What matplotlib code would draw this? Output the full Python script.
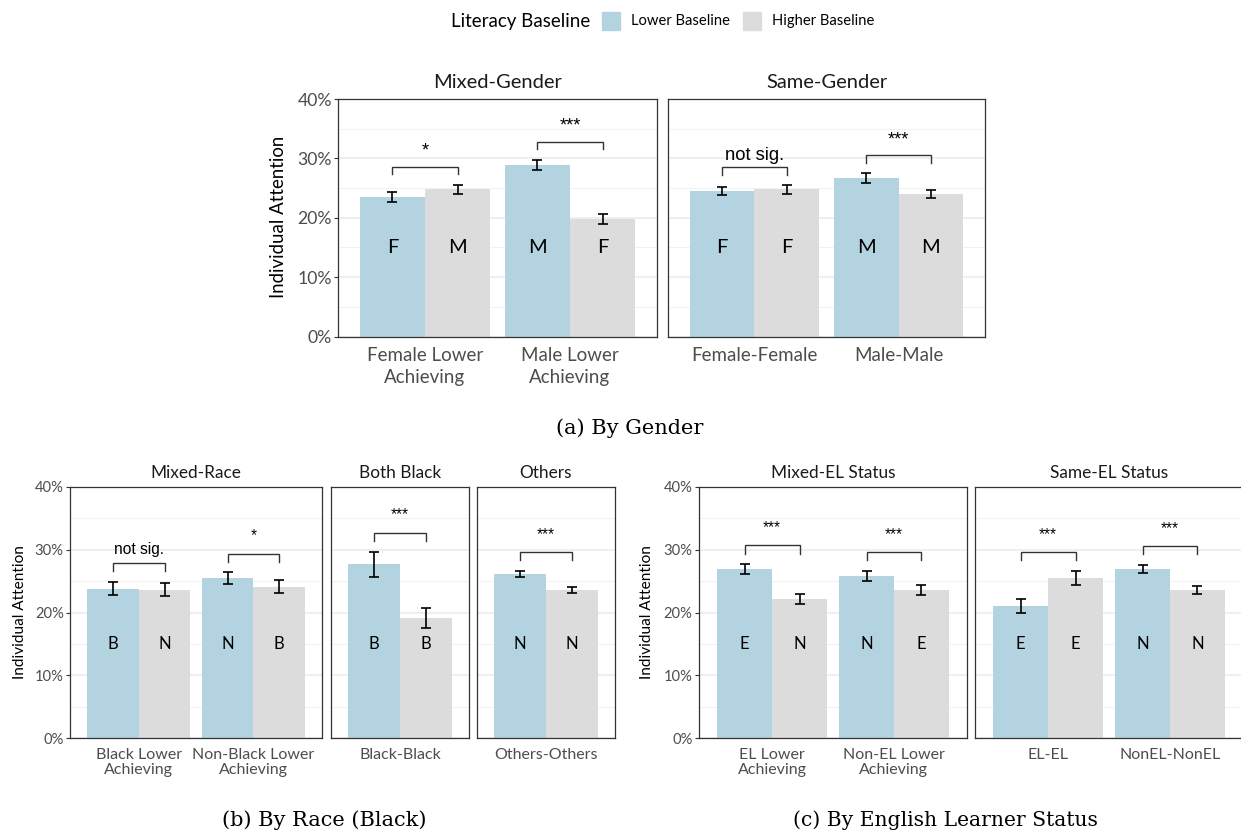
import matplotlib
matplotlib.use("Agg")
import matplotlib.pyplot as plt
from matplotlib.patches import Rectangle
from matplotlib.ticker import FixedLocator

# ---------------- DATA (percent) ----------------
# (a) Gender
mg_cats = ["Female Lower\nAchieving", "Male Lower\nAchieving"]
mg_lower = [23.5, 28.9]
mg_lower_err = [0.85, 0.9]
mg_higher = [24.8, 19.8]
mg_higher_err = [0.8, 0.85]
mg_lower_lbl = ["F", "M"]
mg_higher_lbl = ["M", "F"]
mg_sig = ["*", "***"]

sg_cats = ["Female-Female", "Male-Male"]
sg_lower = [24.5, 26.7]
sg_lower_err = [0.75, 0.8]
sg_higher = [24.8, 24.0]
sg_higher_err = [0.75, 0.75]
sg_lower_lbl = ["F", "M"]
sg_higher_lbl = ["F", "M"]
sg_sig = ["not sig.", "***"]

# (b) Race
mr_cats = ["Black Lower\nAchieving", "Non-Black Lower\nAchieving"]
mr_lower = [23.8, 25.5]
mr_lower_err = [1.05, 0.9]
mr_higher = [23.6, 24.1]
mr_higher_err = [1.05, 1.0]
mr_lower_lbl = ["B", "N"]
mr_higher_lbl = ["N", "B"]
mr_sig = ["not sig.", "*"]

bb_cats = ["Black-Black"]
bb_lower = [27.7]
bb_lower_err = [2.0]
bb_higher = [19.15]
bb_higher_err = [1.6]
bb_lower_lbl = ["B"]
bb_higher_lbl = ["B"]
bb_sig = ["***"]

oo_cats = ["Others-Others"]
oo_lower = [26.1]
oo_lower_err = [0.5]
oo_higher = [23.6]
oo_higher_err = [0.5]
oo_lower_lbl = ["N"]
oo_higher_lbl = ["N"]
oo_sig = ["***"]

# (c) English learner status
me_cats = ["EL Lower\nAchieving", "Non-EL Lower\nAchieving"]
me_lower = [26.9, 25.8]
me_lower_err = [0.8, 0.8]
me_higher = [22.1, 23.6]
me_higher_err = [0.8, 0.8]
me_lower_lbl = ["E", "N"]
me_higher_lbl = ["N", "E"]
me_sig = ["***", "***"]

se_cats = ["EL-EL", "NonEL-NonEL"]
se_lower = [21.05, 26.9]
se_lower_err = [1.05, 0.66]
se_higher = [25.5, 23.6]
se_higher_err = [1.1, 0.66]
se_lower_lbl = ["E", "N"]
se_higher_lbl = ["E", "N"]
se_sig = ["***", "***"]

panel_titles = ["Mixed-Gender", "Same-Gender", "Mixed-Race", "Both Black", "Others",
                "Mixed-EL Status", "Same-EL Status"]
legend_title = "Literacy Baseline"
legend_labels = ["Lower Baseline", "Higher Baseline"]
y_ticks = [0, 10, 20, 30, 40]
y_label = "Individual Attention"
captions = ["(a) By Gender", "(b) By Race (Black)", "(c) By English Learner Status"]

# ---------------- STYLE ----------------
BLUE = "#B3D3E1"
GRAY = "#DCDCDC"
SANS = ["Lato", "DejaVu Sans"]
SIGF = ["Liberation Sans", "DejaVu Sans"]
SERIF = ["DejaVu Serif", "Liberation Serif"]
plt.rcParams["font.family"] = SANS

W, H = 1241, 833
fig = plt.figure(figsize=(W / 100, H / 100), dpi=100)


def ax_at(x0, x1, y0, y1):
    return fig.add_axes([x0 / W, 1 - y1 / H, (x1 - x0) / W, (y1 - y0) / H])


def draw_panel(ax, cats, lo, lo_e, hi, hi_e, lo_lbl, hi_lbl, sig, title,
               first, big):
    n = len(cats)
    xs = list(range(1, n + 1))
    bw = 0.45
    fs_lbl = 14.5 if big else 12.0
    fs_tick = 13.5 if big else 11.5
    fs_ytick = 12.7 if big else 10.6
    fs_title = 14.5 if big else 12.4
    fs_sig = 13.2 if big else 11.2
    txt_off = 1.18 if big else 1.5
    star_extra = 0.65
    ax.set_xlim(0.4, n + 0.6)
    ax.set_ylim(0, 40)
    ax.yaxis.set_major_locator(FixedLocator(y_ticks))
    ax.yaxis.set_minor_locator(FixedLocator([5, 15, 25, 35]))
    ax.grid(True, which="major", axis="y", color="#EBEBEB", lw=1.1, zorder=0)
    ax.grid(True, which="minor", axis="y", color="#F2F2F2", lw=0.8, zorder=0)
    ax.set_axisbelow(True)
    xl = [x - bw / 2 for x in xs]
    xh = [x + bw / 2 for x in xs]
    ax.bar(xl, lo, width=bw, color=BLUE, zorder=2)
    ax.bar(xh, hi, width=bw, color=GRAY, zorder=2)
    ax.errorbar(xl, lo, yerr=lo_e, fmt="none", ecolor="black", elinewidth=1.2,
                capsize=3.6, capthick=1.2, zorder=3)
    ax.errorbar(xh, hi, yerr=hi_e, fmt="none", ecolor="black", elinewidth=1.2,
                capsize=3.6, capthick=1.2, zorder=3)
    for i in range(n):
        ax.text(xl[i], 15, lo_lbl[i], ha="center", va="center", fontsize=fs_lbl,
                color="black", zorder=4)
        ax.text(xh[i], 15, hi_lbl[i], ha="center", va="center", fontsize=fs_lbl,
                color="black", zorder=4)
        top = max(lo[i] + lo_e[i], hi[i] + hi_e[i]) + 3.0
        ax.plot([xl[i], xl[i], xh[i], xh[i]], [top - 1.3, top, top, top - 1.3],
                color="#333333", lw=1.0, zorder=4, solid_joinstyle="miter")
        off = txt_off + (star_extra if set(sig[i]) == {"*"} else 0)
        ax.text(xs[i], top + off, sig[i], ha="center", va="baseline",
                fontsize=fs_sig, family=SIGF, color="black", zorder=4)
    ax.set_xticks(xs)
    ax.set_xticklabels(cats, fontsize=fs_tick, color="#4D4D4D",
                       linespacing=1.38 if big else 1.12)
    ax.tick_params(axis="x", length=0, pad=7.5 if big else 7.0)
    if first:
        ax.set_yticklabels([f"{v}%" for v in y_ticks], fontsize=fs_ytick,
                           color="#4D4D4D")
        ax.tick_params(axis="y", which="major", length=3, width=0.8,
                       color="#333333", pad=1.5)
    else:
        ax.tick_params(axis="y", which="major", length=0, labelleft=False)
    ax.tick_params(axis="y", which="minor", length=0)
    for s in ax.spines.values():
        s.set_color("#333333")
        s.set_linewidth(0.9)
    ax.set_title(title, fontsize=fs_title, color="#1A1A1A", pad=8 if big else 6.5)


# ---- top row ----
a1 = ax_at(338, 657, 99, 336.5)
draw_panel(a1, mg_cats, mg_lower, mg_lower_err, mg_higher, mg_higher_err,
           mg_lower_lbl, mg_higher_lbl, mg_sig, panel_titles[0], True, True)
a2 = ax_at(668, 985, 99, 336.5)
draw_panel(a2, sg_cats, sg_lower, sg_lower_err, sg_higher, sg_higher_err,
           sg_lower_lbl, sg_higher_lbl, sg_sig, panel_titles[1], False, True)

# ---- bottom left ----
b1 = ax_at(70, 322, 487, 738)
draw_panel(b1, mr_cats, mr_lower, mr_lower_err, mr_higher, mr_higher_err,
           mr_lower_lbl, mr_higher_lbl, mr_sig, panel_titles[2], True, False)
b2 = ax_at(331, 469, 487, 738)
draw_panel(b2, bb_cats, bb_lower, bb_lower_err, bb_higher, bb_higher_err,
           bb_lower_lbl, bb_higher_lbl, bb_sig, panel_titles[3], False, False)
b3 = ax_at(477, 615, 487, 738)
draw_panel(b3, oo_cats, oo_lower, oo_lower_err, oo_higher, oo_higher_err,
           oo_lower_lbl, oo_higher_lbl, oo_sig, panel_titles[4], False, False)

# ---- bottom right ----
c1 = ax_at(699, 967, 487, 738)
draw_panel(c1, me_cats, me_lower, me_lower_err, me_higher, me_higher_err,
           me_lower_lbl, me_higher_lbl, me_sig, panel_titles[5], True, False)
c2 = ax_at(975, 1243, 487, 738)
draw_panel(c2, se_cats, se_lower, se_lower_err, se_higher, se_higher_err,
           se_lower_lbl, se_higher_lbl, se_sig, panel_titles[6], False, False)

# y labels
fig.text(278 / W, 1 - 217 / H, y_label, rotation=90, ha="center", va="center",
         fontsize=13.4, color="black")
fig.text(20 / W, 1 - 612 / H, y_label, rotation=90, ha="center", va="center",
         fontsize=11.1, color="black")
fig.text(647 / W, 1 - 612 / H, y_label, rotation=90, ha="center", va="center",
         fontsize=11.1, color="black")

# legend
fig.text(451 / W, 1 - 21 / H, legend_title, ha="left", va="center", fontsize=13.5,
         color="black")
fig.add_artist(Rectangle((602 / W, 1 - 30 / H), 18 / W, 18 / H, color=BLUE,
                         transform=fig.transFigure))
fig.text(631 / W, 1 - 21 / H, legend_labels[0], ha="left", va="center",
         fontsize=10.6, color="black")
fig.add_artist(Rectangle((743 / W, 1 - 30 / H), 18 / W, 18 / H, color=GRAY,
                         transform=fig.transFigure))
fig.text(772 / W, 1 - 21 / H, legend_labels[1], ha="left", va="center",
         fontsize=10.6, color="black")

# captions
fig.text(630 / W, 1 - 428 / H, captions[0], ha="center", va="center",
         fontsize=15, family=SERIF, color="black")
fig.text(324 / W, 1 - 820 / H, captions[1], ha="center", va="center",
         fontsize=15, family=SERIF, color="black")
fig.text(945 / W, 1 - 820 / H, captions[2], ha="center", va="center",
         fontsize=14.6, family=SERIF, color="black")

fig.savefig("out.png", dpi=100)
